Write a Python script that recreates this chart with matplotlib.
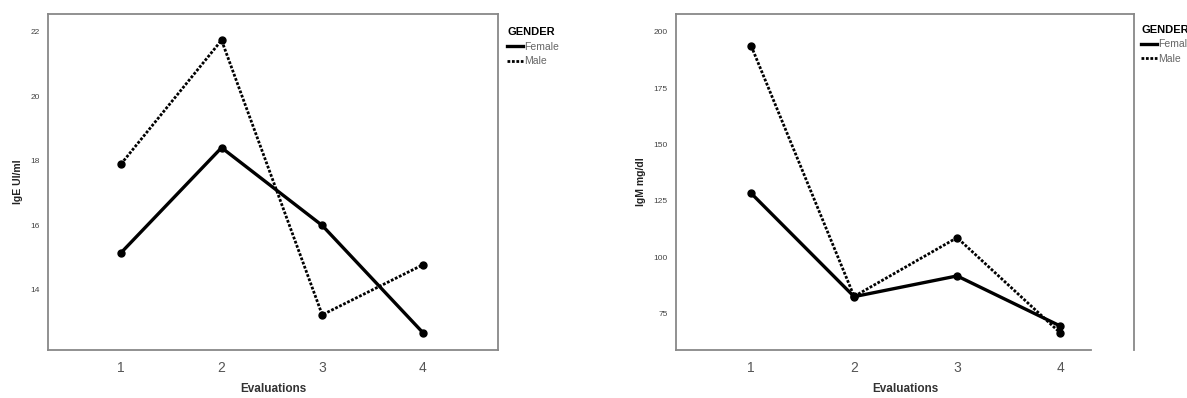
import matplotlib
matplotlib.use("Agg")
import matplotlib.pyplot as plt

# data
evaluations = [1, 2, 3, 4]
ige_female = [15.15, 18.41, 16.0, 12.68]
ige_male = [17.9, 21.74, 13.23, 14.78]
igm_female = [128.3, 82.4, 91.6, 69.4]
igm_male = [193.8, 82.5, 108.6, 66.4]
ige_ticks = [14, 16, 18, 20, 22]
igm_ticks = [75, 100, 125, 150, 175, 200]

plt.rcParams['font.family'] = ['Liberation Sans', 'DejaVu Sans']

fig = plt.figure(figsize=(11.87, 3.98), dpi=100)
ax1 = fig.add_axes([0.0404, 0.1206, 0.379, 0.844])
ax2 = fig.add_axes([0.5695, 0.1206, 0.386, 0.844])


def draw(ax, female, male, yticks, ylabel, xlim, ylim, legpad):
    ax.plot(evaluations, female, color='black', lw=2.4, marker='o', ms=5, label='Female')
    ax.plot(evaluations, male, color='black', lw=2.0, ls=(0, (1, 0.6)), marker='o', ms=5, label='Male')
    ax.set_xlim(*xlim)
    ax.set_ylim(*ylim)
    ax.set_xticks(evaluations)
    ax.set_yticks(yticks)
    ax.tick_params(axis='x', length=0, pad=8, labelsize=10, labelcolor='#555555')
    ax.tick_params(axis='y', length=0, pad=6, labelsize=6, labelcolor='#444444')
    for s in ax.spines.values():
        s.set_color('#888888')
        s.set_linewidth(1.3)
    ax.set_xlabel('Evaluations', fontsize=8.5, fontweight='bold', color='#333333', labelpad=6)
    ax.set_ylabel(ylabel, fontsize=7.5, fontweight='bold', color='#222222', labelpad=5)
    leg = ax.legend(loc='upper left', bbox_to_anchor=(1.0, 0.99), frameon=False,
                    fontsize=7.5, handlelength=1.5, handletextpad=0.1, labelspacing=0.45,
                    title='GENDER', title_fontproperties={'weight': 'bold', 'size': 8.0},
                    alignment='left', borderaxespad=legpad)
    for t in leg.get_texts():
        t.set_color('#666666')
    for h in leg.legend_handles:
        h.set_marker('')


draw(ax1, ige_female, ige_male, ige_ticks, 'IgE UI/ml', (0.275, 4.745), (12.14, 22.55), 0.5)
draw(ax2, igm_female, igm_male, igm_ticks, 'IgM mg/dl', (0.27, 4.72), (58.7, 207.9), 0.3)
ax2.spines['bottom'].set_bounds(0.27, 4.3)

fig.savefig('out.png', dpi=100)
